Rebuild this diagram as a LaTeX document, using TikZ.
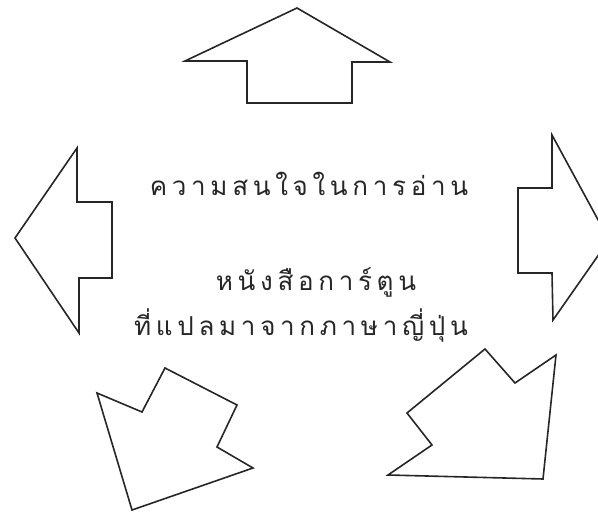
\documentclass[tikz,border=0pt]{standalone}
\usepackage{fontspec}
\newfontfamily\thaifont[Script=Thai,LetterSpace=18]{Loma}
\begin{document}
\begin{tikzpicture}[x=1pt,y=-1pt,
  sketch/.style={draw=black!85,line width=1.6pt,line join=miter},
  thaitext/.style={anchor=base,inner sep=0pt,text=black!85,font=\thaifont\fontsize{26}{30}\selectfont}]
\useasboundingbox (0,0) rectangle (598,513);
\clip (0,0) rectangle (598,513);
% top arrow
\draw[sketch] (297,8) -- (390,62) -- (352,62) -- (352,103) -- (247,103) -- (247,61) -- (185,61) -- cycle;
% left arrow
\draw[sketch] (77,148) -- (15,238) -- (79,333) -- (79,278) -- (112,278) -- (112,202) -- (77,202) -- cycle;
% right arrow
\draw[sketch] (552,135) -- (609,240) -- (553,320) -- (552,273) -- (518,273) -- (518,188) -- (552,188) -- cycle;
% bottom-left arrow
\draw[sketch] (97,393) -- (132,510) -- (253,468) -- (217,447) -- (237,405) -- (165,368) -- (142,412) -- cycle;
% bottom-right arrow
\draw[sketch] (388,475) -- (543,479) -- (556,355) -- (515,383) -- (485,349) -- (407,413) -- (432,445) -- cycle;
% texts
\node[thaitext] (t1) at (309,196) {ความสนใจในการอ่าน};
\node[thaitext] (t2) at (316,291) {หนังสือการ์ตูน};
\node[thaitext] (t3) at (301,336) {ที่แปลมาจากภาษาญี่ปุ่น};
\end{tikzpicture}
\end{document}
